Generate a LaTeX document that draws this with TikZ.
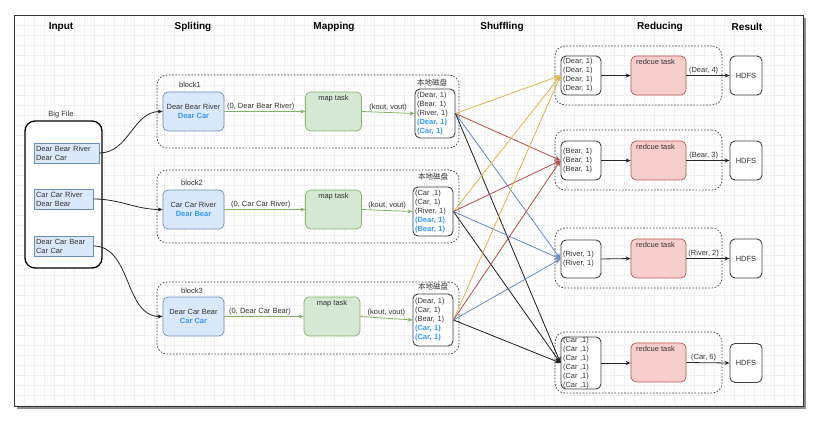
\documentclass[tikz,border=0pt]{standalone}
\usepackage{fontspec}
\setmainfont{Liberation Sans}
\newfontfamily\cjk{Noto Sans CJK SC}
\usetikzlibrary{arrows.meta}
\definecolor{bluefill}{HTML}{DAE8FC}
\definecolor{blueline}{HTML}{6C8EBF}
\definecolor{greenfill}{HTML}{D5E8D4}
\definecolor{greenline}{HTML}{82B366}
\definecolor{redfill}{HTML}{F8CECC}
\definecolor{redline}{HTML}{B85450}
\definecolor{yellowline}{HTML}{E0B850}
\definecolor{txtblue}{HTML}{3399FF}
\definecolor{txt}{HTML}{333333}
\definecolor{gridc}{HTML}{F1F1F1}
\tikzset{
  header/.style={font=\bfseries\fontsize{10}{12}\selectfont, text=black, inner sep=0pt},
  small/.style={font=\fontsize{7.5}{9}\selectfont, text=txt, inner sep=0pt},
  bigfile/.style={draw=black, line width=1.3pt, rounded corners=10pt, fill=white, inner sep=0pt},
  filepart/.style={draw=blueline, fill=bluefill, line width=0.6pt, inner xsep=2pt, inner ysep=0pt, align=left, font=\fontsize{7.5}{9}\selectfont, text=txt},
  container/.style={draw=black!75, dash pattern=on 1.6pt off 1.6pt, line width=0.7pt, rounded corners=10pt, inner sep=0pt},
  splitbox/.style={draw=blueline, fill=bluefill, line width=0.7pt, rounded corners=5pt, align=center, inner sep=0pt, font=\fontsize{7.5}{9}\selectfont, text=txt},
  mapbox/.style={draw=greenline, fill=greenfill, line width=0.7pt, rounded corners=5pt, inner sep=0pt},
  redbox/.style={draw=redline, fill=redfill, line width=0.7pt, rounded corners=5pt, inner sep=0pt},
  whitebox/.style={draw=black!75, fill=white, line width=0.9pt, rounded corners=5pt, inner xsep=2pt, inner ysep=0pt, align=left, font=\fontsize{7.5}{9}\selectfont, text=txt},
  tasklabel/.style={anchor=north, inner sep=0pt, yshift=-3pt, font=\fontsize{7.5}{9}\selectfont, text=txt},
  garrow/.style={draw=greenline, line width=0.8pt, -{Stealth[length=5pt,width=4pt]}},
  karrow/.style={draw=black!85, line width=0.8pt, -{Stealth[length=5pt,width=4pt]}},
  sharrow/.style={line width=0.8pt, -{Stealth[length=6pt,width=5pt]}},
  elabel/.style={above, inner sep=1.5pt, font=\fontsize{7.5}{9}\selectfont, text=txt},
}
\begin{document}
\begin{tikzpicture}[x=1pt,y=-1pt]
\useasboundingbox (0,0) rectangle (823,422);
\fill[white] (0,0) rectangle (823,422);
% frame shadow and frame
\fill[black!45] (17,18) rectangle (806,409);
\fill[white] (14,15) rectangle (803,406);
\begin{scope}
\clip (14,15) rectangle (803,406);
\foreach \gx in {14,24,...,803} \draw[gridc, line width=0.4pt] (\gx,15) -- (\gx,406);
\foreach \gy in {15,25,...,406} \draw[gridc, line width=0.4pt] (14,\gy) -- (803,\gy);
\end{scope}
\draw[black!80, line width=0.9pt] (14,15) rectangle (803,406);

% headers
\node[header] (hin) at (61,27) {Input};
\node[header] (hsp) at (193,27) {Spliting};
\node[header] (hmap) at (334,27) {Mapping};
\node[header] (hsh) at (502,27) {Shuffling};
\node[header] (hred) at (660,27) {Reducing};
\node[header] (hres) at (747,27) {Result};

% big file
\node[small] (bflabel) at (61,115) {Big File};
\node[bigfile, minimum width=77pt, minimum height=147pt] (bf) at (63.5,194.5) {};
\node[filepart, text width=61pt, minimum height=20pt] (fb1) at (66.5,153) {Dear Bear River\\Dear Car};
\node[filepart, text width=55pt, minimum height=20pt] (fb2) at (63.5,199) {Car Car River\\Dear Bear};
\node[filepart, text width=55pt, minimum height=20pt] (fb3) at (63.5,246) {Dear Car Bear\\Car Car};

% block containers
\node[container, minimum width=302pt, minimum height=73pt] (blk1) at (308,111.5) {};
\node[container, minimum width=302pt, minimum height=73pt] (blk2) at (308,206.5) {};
\node[container, minimum width=302pt, minimum height=72pt] (blk3) at (308,318) {};
\node[small] (bl1) at (190,85) {block1};
\node[small] (bl2) at (192,183) {block2};
\node[small] (bl3) at (192,291) {block3};

% split boxes
\node[splitbox, minimum width=61pt, minimum height=39pt] (s1) at (193.5,111.5) {Dear Bear River\\{\color{txtblue}\bfseries Dear Car}};
\node[splitbox, minimum width=61pt, minimum height=39pt] (s2) at (193.5,209.5) {Car Car River\\{\color{txtblue}\bfseries Dear Bear}};
\node[splitbox, minimum width=61pt, minimum height=39pt] (s3) at (193.5,316.5) {Dear Car Bear\\{\color{txtblue}\bfseries Car Car}};

% map boxes
\node[mapbox, minimum width=56pt, minimum height=39pt] (m1) at (333.5,111.5) {};
\node[mapbox, minimum width=56pt, minimum height=39pt] (m2) at (333.5,209.5) {};
\node[mapbox, minimum width=56pt, minimum height=39pt] (m3) at (332,316.5) {};
\node[tasklabel] (m1t) at (m1.north) {map task};
\node[tasklabel] (m2t) at (m2.north) {map task};
\node[tasklabel] (m3t) at (m3.north) {map task};

% local disks
\node[small, font=\cjk\fontsize{7.5}{9}\selectfont] (dl1) at (432,83) {本地磁盘};
\node[small, font=\cjk\fontsize{7.5}{9}\selectfont] (dl2) at (433,177) {本地磁盘};
\node[small, font=\cjk\fontsize{7.5}{9}\selectfont] (dl3) at (433,287) {本地磁盘};
\node[whitebox, text width=36pt, minimum height=49pt] (d1) at (435,113.5) {(Dear, 1)\\(Bear, 1)\\(River, 1)\\{\color{txtblue}\bfseries (Dear, 1)}\\{\color{txtblue}\bfseries (Car, 1)}};
\node[whitebox, text width=36pt, minimum height=49pt] (d2) at (433,211.5) {(Car ,1)\\(Car, 1)\\(River, 1)\\{\color{txtblue}\bfseries (Dear, 1)}\\{\color{txtblue}\bfseries (Bear, 1)}};
\node[whitebox, text width=36pt, minimum height=52pt] (d3) at (433,320) {(Dear, 1)\\(Car, 1)\\(Bear, 1)\\{\color{txtblue}\bfseries (Car, 1)}\\{\color{txtblue}\bfseries (Car, 1)}};

% input curves
\draw[karrow] (fb1.east) to[out=0,in=180] (s1.west);
\draw[karrow] (fb2.east) to[out=0,in=180] (s2.west);
\draw[karrow] (fb3.east) to[out=0,in=180] (s3.west);

% mapping arrows
\draw[garrow] (s1.east) -- node[elabel, pos=0.45] {(0, Dear Bear River)} (m1.west);
\draw[garrow] (s2.east) -- node[elabel, pos=0.45] {(0, Car Car River)} (m2.west);
\draw[garrow] (s3.east) -- node[elabel, pos=0.45] {(0, Dear Car Bear)} (m3.west);
\draw[garrow] (m1.east) -- node[elabel] {(kout, vout)} (d1.west);
\draw[garrow] (m2.east) -- node[elabel] {(kout, vout)} (d2.west);
\draw[garrow] (m3.east) -- node[elabel] {(kout, vout)} (d3.west);

% reduce containers
\node[container, minimum width=167pt, minimum height=59pt] (rc1) at (638.5,75.5) {};
\node[container, minimum width=167pt, minimum height=60pt] (rc2) at (638.5,160) {};
\node[container, minimum width=167pt, minimum height=60pt] (rc3) at (638.5,258) {};
\node[container, minimum width=167pt, minimum height=61pt] (rc4) at (638.5,362.5) {};

% reducer inputs
\node[whitebox, text width=36pt, minimum height=39pt] (ri1) at (581,75.5) {(Dear, 1)\\(Dear, 1)\\(Dear, 1)\\(Dear, 1)};
\node[whitebox, text width=36pt, minimum height=39pt] (ri2) at (581,160.5) {(Bear, 1)\\(Bear, 1)\\(Bear, 1)};
\node[whitebox, text width=36pt, minimum height=38pt] (ri3) at (581,259) {(River, 1)\\(River, 1)};
\node[whitebox, text width=36pt, minimum height=52pt] (ri4) at (581,363) {(Car ,1)\\(Car ,1)\\(Car ,1)\\(Car ,1)\\(Car ,1)\\(Car ,1)};

% reduce tasks
\node[redbox, minimum width=55pt, minimum height=39pt] (rt1) at (658.5,75.5) {};
\node[redbox, minimum width=55pt, minimum height=39pt] (rt2) at (658.5,160.5) {};
\node[redbox, minimum width=55pt, minimum height=39pt] (rt3) at (658.5,258.5) {};
\node[redbox, minimum width=55pt, minimum height=39pt] (rt4) at (658.5,362.5) {};
\node[tasklabel, xshift=-3pt] (rt1t) at (rt1.north) {redcue task};
\node[tasklabel, xshift=-3pt] (rt2t) at (rt2.north) {redcue task};
\node[tasklabel, xshift=-3pt] (rt3t) at (rt3.north) {redcue task};
\node[tasklabel, xshift=-3pt] (rt4t) at (rt4.north) {redcue task};

% HDFS
\node[whitebox, align=center, inner xsep=0pt, minimum width=32pt, minimum height=39pt] (h1) at (746,75.5) {HDFS};
\node[whitebox, align=center, inner xsep=0pt, minimum width=32pt, minimum height=39pt] (h2) at (746,160.5) {HDFS};
\node[whitebox, align=center, inner xsep=0pt, minimum width=32pt, minimum height=39pt] (h3) at (746,258.5) {HDFS};
\node[whitebox, align=center, inner xsep=0pt, minimum width=32pt, minimum height=39pt] (h4) at (746,363) {HDFS};

% reduce arrows
\draw[karrow] (ri1.east) -- (rt1.west);
\draw[karrow] (ri2.east) -- (rt2.west);
\draw[karrow] (ri3.east) -- (rt3.west);
\draw[karrow] (ri4.east) -- (ri4.east -| rt4.west);
\draw[karrow] (rt1.east) -- node[elabel, pos=0.4] {(Dear, 4)} (h1.west);
\draw[karrow] (rt2.east) -- node[elabel, pos=0.4] {(Bear, 3)} (h2.west);
\draw[karrow] (rt3.east) -- node[elabel, pos=0.4] {(River, 2)} (h3.west);
\draw[karrow] (rt4.east) -- node[elabel, pos=0.4] {(Car, 6)} (h4.west);

% shuffle
\foreach \d in {d1,d2,d3} {
  \draw[sharrow, draw=yellowline, fill=yellowline] (\d.east) -- (ri1.west);
  \draw[sharrow, draw=redline, fill=redline] (\d.east) -- (ri2.west);
  \draw[sharrow, draw=blueline, fill=blueline] (\d.east) -- (ri3.west);
  \draw[sharrow, draw=black!85, fill=black!85] (\d.east) -- (ri4.west);
}
\end{tikzpicture}
\end{document}
